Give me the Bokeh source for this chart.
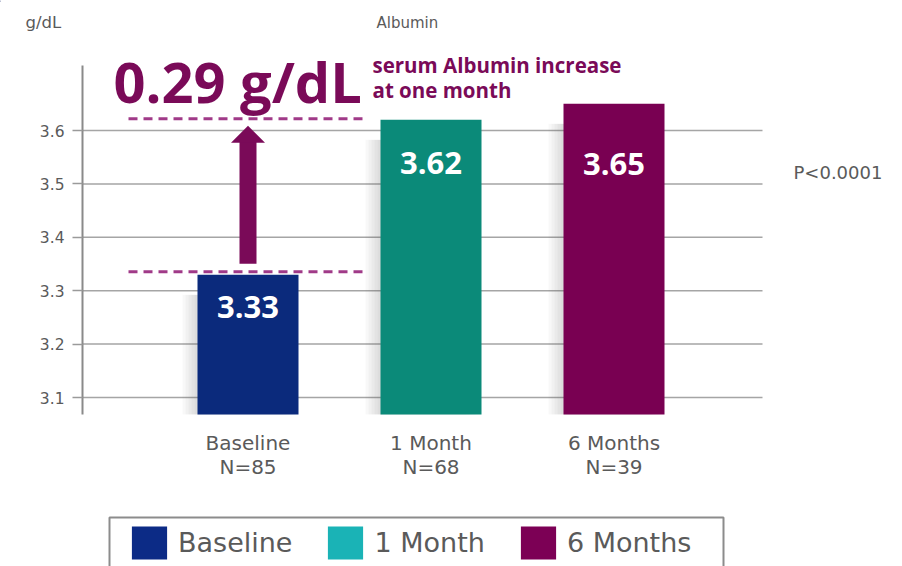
from bokeh.plotting import figure
from bokeh.models import Range1d, FixedTicker, Label, Legend, LegendItem
from bokeh.core.properties import value
from bokeh.embed import file_html
from bokeh.resources import INLINE

# ---------------- data ----------------
categories = ["Baseline", "1 Month", "6 Months"]
n_patients = [85, 68, 39]
albumin = [3.33, 3.62, 3.65]
y_ticks = [3.1, 3.2, 3.3, 3.4, 3.5, 3.6]
unit_label = "g/dL"
chart_title = "Albumin"
p_value_text = "P<0.0001"
note_lines = ["serum Albumin increase", "at one month"]

# ---------------- styles ----------------
bar_colors = ["#0b2a7c", "#0b8a79", "#790052"]
legend_colors = ["#0c2b86", "#1ab3b6", "#7c0055"]
purple = "#7a0a58"
dash_purple = "#a03a88"
gray_text = "#5a5a5a"
REG = "DejaVu Sans"
BOLD = "Open Sans"

W, H = 902, 566
AXIS_PX = 82           # canvas x of the y axis line
PX_X = 183.0           # pixels per category step
PX_Y = 534.0           # pixels per g/dL
x_pos = [1, 2, 3]

x0 = 1 - (247.5 - AXIS_PX) / PX_X
y_top = 3.1 + 397 / PX_Y


def X(px):
    return x0 + (px - AXIS_PX) / PX_X


def Y(py):
    return y_top - py / PX_Y


p = figure(width=W, height=H,
           x_range=Range1d(X(0), X(W)),
           y_range=Range1d(Y(H), Y(0)),
           output_backend="svg", toolbar_location=None,
           x_axis_location=None, y_axis_location="left",
           min_border_left=0, min_border_right=0,
           min_border_top=0, min_border_bottom=0)
p.outline_line_color = None
p.background_fill_color = "white"
p.border_fill_color = "white"

ax = p.yaxis[0]
ax.fixed_location = X(AXIS_PX)
ax.ticker = FixedTicker(ticks=y_ticks)
ax.bounds = (Y(414), Y(65))
ax.major_tick_in = 0
ax.major_tick_out = 10
ax.minor_tick_line_color = None
ax.axis_line_color = "#8a8a8a"
ax.axis_line_width = 2
ax.major_tick_line_color = "#9a9a9a"
ax.major_tick_line_width = 1.5
ax.major_label_standoff = 8
ax.major_label_text_font = REG
ax.major_label_text_font_size = "15.5px"
ax.major_label_text_color = gray_text

for g in p.xgrid:
    g.visible = False
for g in p.ygrid:
    g.visible = False

# horizontal grid lines at the tick values
p.segment(x0=[X(AXIS_PX)] * len(y_ticks), x1=[X(762)] * len(y_ticks),
          y0=y_ticks, y1=y_ticks, line_color="#a5a5a5", line_width=1.5)

bar_w = 101 / PX_X
bar_bottom = Y(414)

# soft shadows on the left of the bars
for off in [3, 6, 9, 12, 15]:
    p.vbar(x=[x - off / PX_X for x in x_pos],
           top=[v - 20 / PX_Y for v in albumin],
           bottom=bar_bottom, width=bar_w,
           fill_color="#555555", fill_alpha=0.045, line_color=None)

p.vbar(x=x_pos, top=albumin, bottom=bar_bottom, width=bar_w,
       fill_color=bar_colors, line_color=None)

# value labels in the bars
label_dy = [32, 43, 60]
p.text(x=x_pos, y=albumin, text=[f"{v:.2f}" for v in albumin],
       y_offset=label_dy, text_align="center", text_baseline="middle",
       text_font=value(BOLD), text_font_style="bold",
       text_font_size="31px", text_color="white")

# category labels
p.text(x=x_pos, y=[Y(442)] * 3, text=categories, text_align="center",
       text_baseline="middle", text_font=value(REG), text_font_size="20px",
       text_color=gray_text)
p.text(x=x_pos, y=[Y(466)] * 3, text=[f"N={n}" for n in n_patients],
       text_align="center", text_baseline="middle", text_font=value(REG),
       text_font_size="20px", text_color=gray_text)

# dashed reference lines at baseline and 1-month level
p.segment(x0=[X(128)] * 2, x1=[X(366)] * 2,
          y0=[albumin[0] + 3 / PX_Y, albumin[1] + 1 / PX_Y],
          y1=[albumin[0] + 3 / PX_Y, albumin[1] + 1 / PX_Y],
          line_color=dash_purple, line_width=3, line_dash="9 6")

# arrow from baseline to 1 month
tip = albumin[1] - 6 / PX_Y
head_base = tip - 17 / PX_Y
p.quad(left=[x_pos[0] - 8.5 / PX_X], right=[x_pos[0] + 8.5 / PX_X],
       bottom=[albumin[0] + 11 / PX_Y], top=[head_base + 1 / PX_Y],
       fill_color=purple, line_color=None)
p.patch(x=[x_pos[0] - 17 / PX_X, x_pos[0] + 17 / PX_X, x_pos[0]],
        y=[head_base, head_base, tip], fill_color=purple, line_color=None)

# annotation texts
increase = albumin[1] - albumin[0]
p.add_layout(Label(x=X(113), y=Y(80), text=f"{increase:.2f} g/dL",
                   text_font=BOLD, text_font_style="bold",
                   text_font_size="56px", text_color=purple,
                   text_baseline="middle"))
for i, line in enumerate(note_lines):
    p.add_layout(Label(x=X(372), y=Y(64 + 25 * i), text=line,
                       text_font=BOLD, text_font_style="bold",
                       text_font_size="20.5px", text_color=purple,
                       text_baseline="middle"))

p.add_layout(Label(x=X(25), y=Y(22), text=unit_label, text_font=REG,
                   text_font_size="16.5px", text_color=gray_text,
                   text_baseline="middle"))
p.add_layout(Label(x=X(376), y=Y(22), text=chart_title, text_font=REG,
                   text_font_size="15px", text_color=gray_text,
                   text_baseline="middle"))
p.add_layout(Label(x=X(793), y=Y(172), text=p_value_text, text_font=REG,
                   text_font_size="18px", text_color=gray_text,
                   text_baseline="middle"))

# legend box
p.quad(left=[X(109)], right=[X(723)], bottom=[Y(575)], top=[Y(517)],
       fill_color="white", line_color="#8c8c8c", line_width=2)

items = []
for name, col in zip(categories, legend_colors):
    # off-screen proxy bar only used for its legend swatch
    r = p.vbar(x=[X(-500)], top=[Y(0)], bottom=Y(1), width=0.1,
               fill_color=col, line_color=None)
    items.append(LegendItem(label=name, renderers=[r]))

legend = Legend(items=items, location=(127, 3),
                orientation="horizontal", glyph_width=44, glyph_height=41,
                label_text_font=REG, label_text_font_size="27px",
                label_text_color=gray_text, label_standoff=7, spacing=31,
                padding=9, margin=0, border_line_color=None,
                background_fill_alpha=0)
p.add_layout(legend)

open("out.html", "w").write(file_html(p, INLINE))
